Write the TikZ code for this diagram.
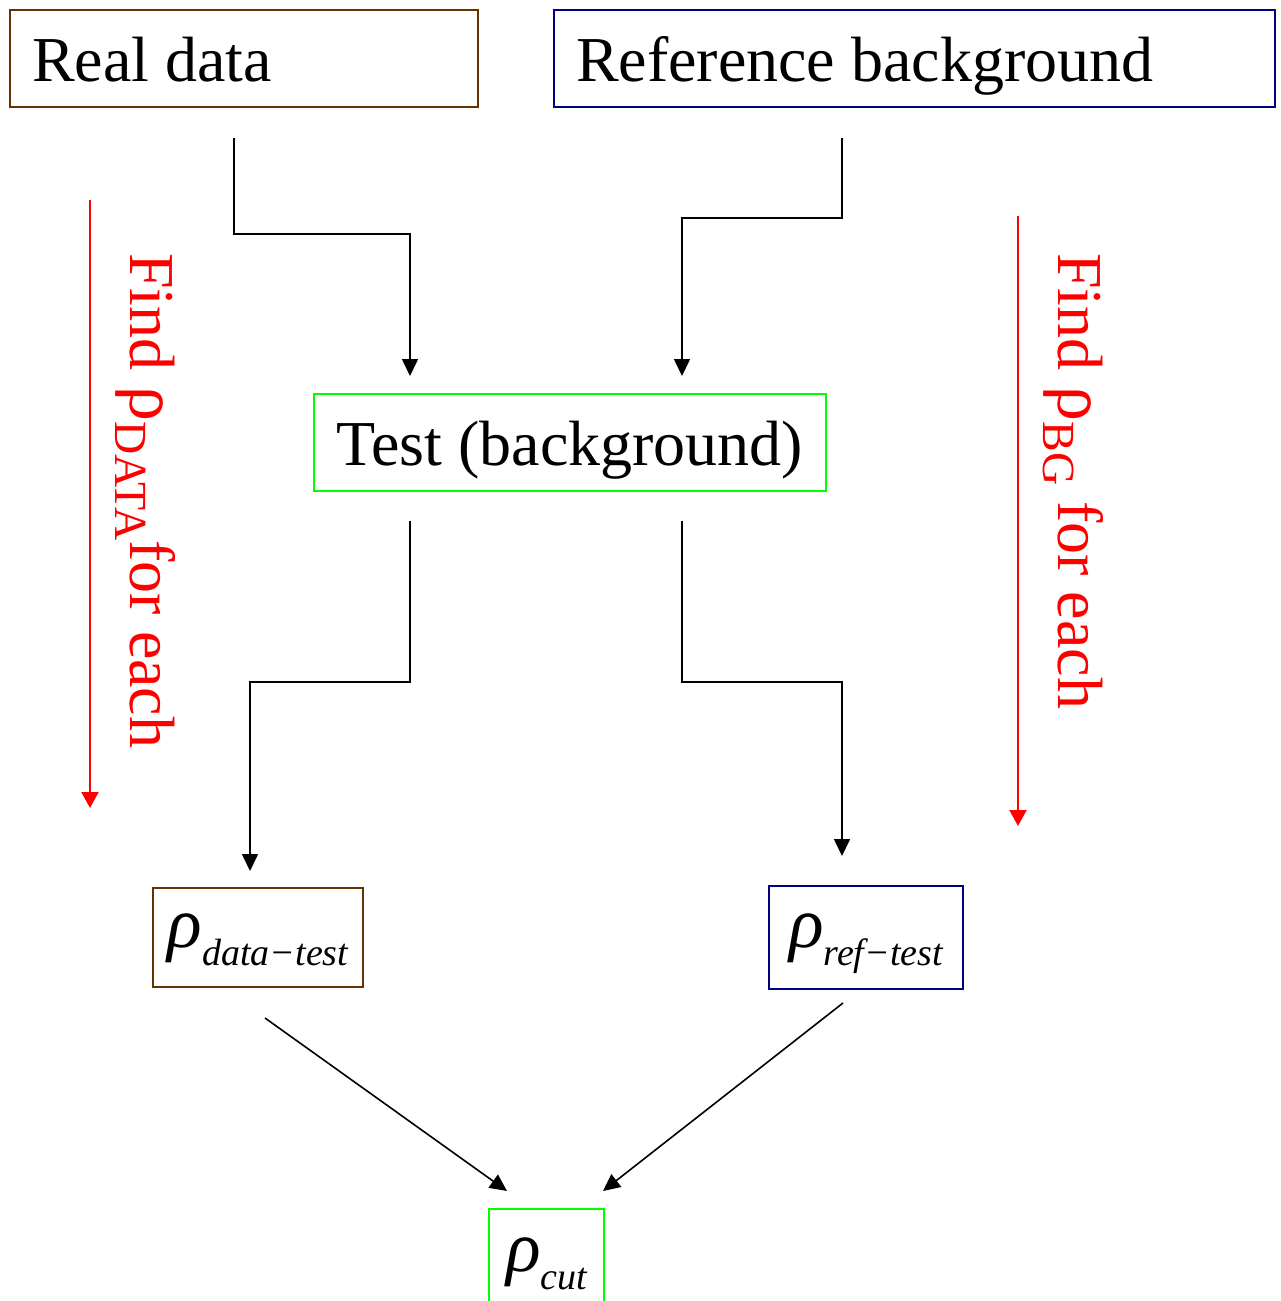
\documentclass[tikz,border=0pt]{standalone}
\usepackage{fontspec}
\setmainfont{Liberation Serif}
\usetikzlibrary{arrows.meta}
\definecolor{brn}{RGB}{102,51,0}
\definecolor{nvy}{RGB}{0,0,128}
\definecolor{grn}{RGB}{0,255,0}
\newcommand\rhosub[1]{{\fontsize{72}{76}\selectfont\itshape ρ}\raisebox{-18pt}{\fontsize{38}{40}\selectfont\itshape #1}}
\begin{document}
\begin{tikzpicture}[x=1pt,y=-1pt,
  box/.style={draw, line width=2pt, inner sep=0pt, font=\fontsize{64}{70}\selectfont},
  tbox/.style={box, text height=58pt, text depth=13pt, minimum height=97pt},
  conn/.style={draw, line width=1.6pt, -{Triangle[length=17pt,width=16pt]}},
  loopline/.style={draw=red, line width=2pt, -{Triangle[length=16pt,width=17pt]}},
  looplabel/.style={text=red, rotate=-90, anchor=base west, inner sep=0pt, font=\fontsize{64}{70}\selectfont}]
\useasboundingbox (0,0) rectangle (1280,1301);
\clip (0,0) rectangle (1280,1301);
% boxes
\node[tbox, draw=brn, text width=424pt, align=flush left, inner xsep=22pt] (real) at (244,58.5) {Real data};
\node[tbox, draw=nvy, text width=677pt, align=flush left, inner xsep=22pt] (ref) at (914.5,58.5) {Reference background};
\node[tbox, draw=grn, minimum width=512pt] (test) at (570,442.5) {Test (background)};
\node[box, draw=brn, minimum width=210pt, minimum height=99pt, text height=45pt, text depth=26pt] (dt) at (258,937.5) {\rhosub{data−test}};
\node[box, draw=nvy, minimum width=194pt, minimum height=103pt, text height=45pt, text depth=26pt] (rt) at (866,937.5) {\rhosub{ref−test}};
\node[box, draw=grn, minimum width=115pt, minimum height=100pt, text height=48pt, text depth=24pt] (cut) at (546.5,1259) {\rhosub{cut}};
% connectors
\draw[conn] ([xshift=-10pt,yshift=-30pt]real.south) -- ++(0,96) -| ([xshift=-160pt,yshift=17pt]test.north);
\draw[conn] ([xshift=-72.5pt,yshift=-30pt]ref.south) -- ++(0,80) -| ([xshift=112pt,yshift=17pt]test.north);
\draw[conn] ([xshift=-160pt,yshift=-29pt]test.south) -- ++(0,161) -| ([xshift=-8pt,yshift=16pt]dt.north);
\draw[conn] ([xshift=112pt,yshift=-29pt]test.south) -- ++(0,161) -| ([xshift=-24pt,yshift=29pt]rt.north);
\draw[conn] ([xshift=7pt,yshift=-30pt]dt.south) -- ([xshift=-39.5pt,yshift=17pt]cut.north);
\draw[conn] ([xshift=-23pt,yshift=-13pt]rt.south) -- ([xshift=56.5pt,yshift=17pt]cut.north);
% loop arrows
\coordinate (l1) at (90,200);
\coordinate (l2) at (90,808);
\coordinate (r1) at (1018,216);
\coordinate (r2) at (1018,826);
\draw[loopline] (l1) -- (l2);
\draw[loopline] (r1) -- (r2);
\node[looplabel] (llab) at (130,253) {Find {\fontsize{70}{70}\selectfont ρ}\raisebox{-15pt}{\fontsize{46}{46}\selectfont DATA}for each};
\node[looplabel] (rlab) at (1058,253) {Find {\fontsize{70}{70}\selectfont ρ}\raisebox{-15pt}{\fontsize{46}{46}\selectfont BG} for each};
\end{tikzpicture}
\end{document}
